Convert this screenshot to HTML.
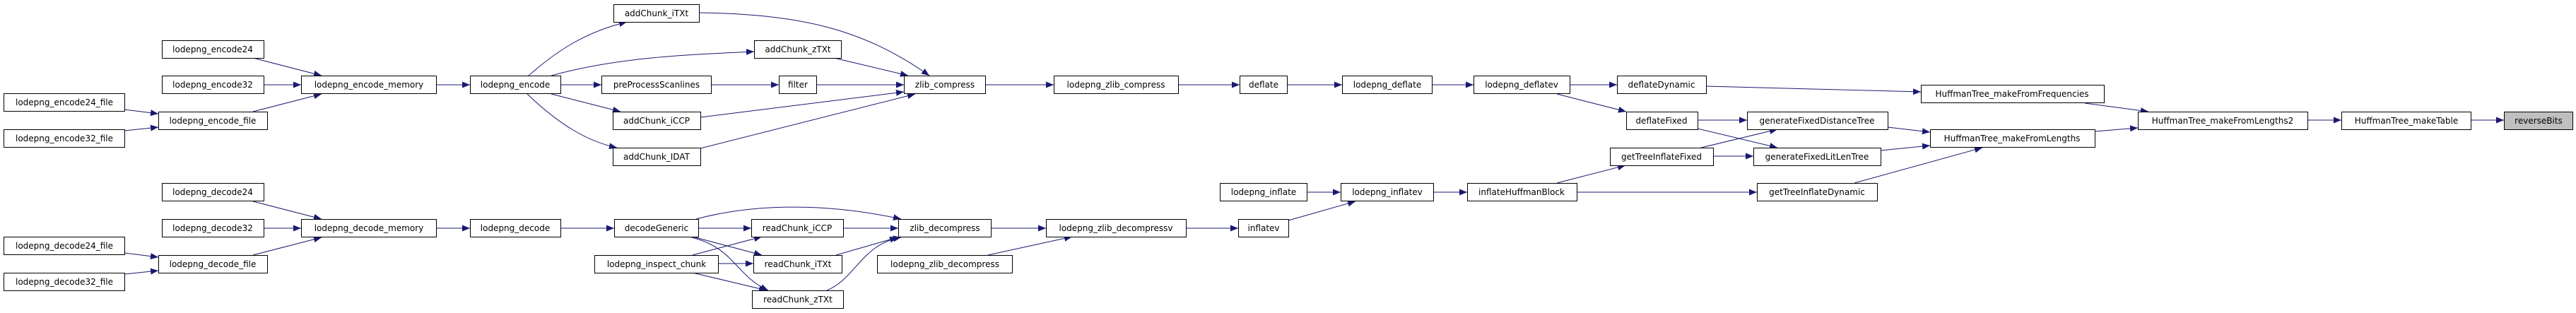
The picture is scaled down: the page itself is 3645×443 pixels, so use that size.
<!DOCTYPE html>
<html><head><meta charset="utf-8"><style>
html,body{margin:0;padding:0;background:#fff;}
svg{display:block;}
text{font-family:"DejaVu Sans","Liberation Sans",sans-serif;font-size:12px;fill:#000;}
.b{fill:#fff;stroke:#000;stroke-width:1;}
.e{fill:none;stroke:#191970;stroke-width:1;}
</style></head><body>
<svg width="3645" height="443" viewBox="0 0 3645 443" xmlns="http://www.w3.org/2000/svg">
<defs>
<marker id="a" markerUnits="userSpaceOnUse" markerWidth="12" markerHeight="10" refX="11" refY="5" orient="auto">
<polygon points="0,0.5 11,5 0,9.5" fill="#191970"/>
</marker>
</defs>
<g marker-end="url(#a)" class="e">
<!-- encode cluster -->
<path class="e" d="M358,82 L455,107"/>
<path class="e" d="M373,120 L426,120"/>
<path class="e" d="M358,158 L455,133"/>
<path class="e" d="M176,155 L224,161"/>
<path class="e" d="M176,185 L224,180"/>
<path class="e" d="M617,120 L665,120"/>
<path class="e" d="M748,107 C790,70 830,45 887,31"/>
<path class="e" d="M780,107 C870,82 960,78 1067,73"/>
<path class="e" d="M793,120 L851,120"/>
<path class="e" d="M780,133 L878,158"/>
<path class="e" d="M746,133 C790,175 830,200 873,209"/>
<path class="e" d="M1006,120 L1102,120"/>
<path class="e" d="M989,18 C1130,20 1220,40 1315,107"/>
<path class="e" d="M1180,82 L1285,107"/>
<path class="e" d="M1155,120 L1279,120"/>
<path class="e" d="M991,166 L1279,130"/>
<path class="e" d="M991,210 L1295,133"/>
<path class="e" d="M1394,120 L1491,120"/>
<path class="e" d="M1667,120 L1754,120"/>
<path class="e" d="M1821,120 L1899,120"/>
<path class="e" d="M2026,120 L2085,120"/>
<path class="e" d="M2221,120 L2288,120"/>
<path class="e" d="M2203,133 L2301,158"/>
<path class="e" d="M2414,122 L2718,130"/>
<path class="e" d="M2402,170 L2472,170"/>
<path class="e" d="M2402,182 L2515,209"/>
<path class="e" d="M2407,209 L2515,183"/>
<path class="e" d="M2424,221 L2481,221"/>
<path class="e" d="M2671,180 L2731,187"/>
<path class="e" d="M2661,213 L2731,206"/>
<path class="e" d="M2624,259 L2805,209"/>
<path class="e" d="M2950,146 L3040,158"/>
<path class="e" d="M2964,186 L3025,181"/>
<path class="e" d="M3265,170 L3313,170"/>
<path class="e" d="M3496,170 L3543,170"/>
<!-- decode cluster -->
<path class="e" d="M358,285 L455,310"/>
<path class="e" d="M373,323 L426,323"/>
<path class="e" d="M358,361 L455,336"/>
<path class="e" d="M176,358 L224,364"/>
<path class="e" d="M176,388 L224,383"/>
<path class="e" d="M617,323 L665,323"/>
<path class="e" d="M793,323 L869,323"/>
<path class="e" d="M985,310 C1060,290 1160,285 1275,310"/>
<path class="e" d="M988,323 L1063,323"/>
<path class="e" d="M980,335 L1078,361"/>
<path class="e" d="M975,335 C1040,350 1040,390 1087,411"/>
<path class="e" d="M980,361 L1078,335"/>
<path class="e" d="M1016,373 L1066,373"/>
<path class="e" d="M980,386 L1085,411"/>
<path class="e" d="M1193,323 L1271,323"/>
<path class="e" d="M1183,361 L1270,336"/>
<path class="e" d="M1170,411 C1210,395 1220,345 1275,336"/>
<path class="e" d="M1402,323 L1480,323"/>
<path class="e" d="M1398,361 L1517,335"/>
<path class="e" d="M1678,323 L1752,323"/>
<path class="e" d="M1823,312 L1918,285"/>
<path class="e" d="M1849,272 L1897,272"/>
<path class="e" d="M2028,272 L2076,272"/>
<path class="e" d="M2203,259 L2300,234"/>
<path class="e" d="M2231,272 L2486,272"/>
</g>
<g text-anchor="middle">
<rect class="b" x="229.5" y="57.5" width="144" height="25"/><text x="301" y="74">lodepng_encode24</text>
<rect class="b" x="229.5" y="107.5" width="144" height="25"/><text x="301" y="124">lodepng_encode32</text>
<rect class="b" x="426.5" y="107.5" width="191" height="25"/><text x="522" y="124">lodepng_encode_memory</text>
<rect class="b" x="5.5" y="132.5" width="171" height="25"/><text x="91" y="149">lodepng_encode24_file</text>
<rect class="b" x="224.5" y="158.5" width="154" height="25"/><text x="301" y="175">lodepng_encode_file</text>
<rect class="b" x="5.5" y="183.5" width="171" height="25"/><text x="91" y="200">lodepng_encode32_file</text>

<rect class="b" x="229.5" y="259.5" width="144" height="25"/><text x="301" y="276">lodepng_decode24</text>
<rect class="b" x="229.5" y="310.5" width="144" height="25"/><text x="301" y="327">lodepng_decode32</text>
<rect class="b" x="426.5" y="310.5" width="191" height="25"/><text x="522" y="327">lodepng_decode_memory</text>
<rect class="b" x="5.5" y="335.5" width="171" height="25"/><text x="91" y="352">lodepng_decode24_file</text>
<rect class="b" x="224.5" y="361.5" width="154" height="25"/><text x="301" y="378">lodepng_decode_file</text>
<rect class="b" x="5.5" y="386.5" width="171" height="25"/><text x="91" y="403">lodepng_decode32_file</text>

<rect class="b" x="665.5" y="107.5" width="128" height="25"/><text x="729" y="124">lodepng_encode</text>
<rect class="b" x="868.5" y="6.5" width="121" height="25"/><text x="929" y="23">addChunk_iTXt</text>
<rect class="b" x="1067.5" y="57.5" width="123" height="25"/><text x="1129" y="74">addChunk_zTXt</text>
<rect class="b" x="851.5" y="107.5" width="155" height="25"/><text x="929" y="124">preProcessScanlines</text>
<rect class="b" x="1102.5" y="107.5" width="53" height="25"/><text x="1129" y="124">filter</text>
<rect class="b" x="867.5" y="158.5" width="124" height="25"/><text x="929" y="175">addChunk_iCCP</text>
<rect class="b" x="867.5" y="209.5" width="124" height="25"/><text x="929" y="226">addChunk_IDAT</text>

<rect class="b" x="665.5" y="310.5" width="128" height="25"/><text x="729" y="327">lodepng_decode</text>
<rect class="b" x="869.5" y="310.5" width="119" height="25"/><text x="929" y="327">decodeGeneric</text>
<rect class="b" x="1063.5" y="310.5" width="130" height="25"/><text x="1128" y="327">readChunk_iCCP</text>
<rect class="b" x="841.5" y="361.5" width="175" height="25"/><text x="929" y="378">lodepng_inspect_chunk</text>
<rect class="b" x="1066.5" y="361.5" width="125" height="25"/><text x="1129" y="378">readChunk_iTXt</text>
<rect class="b" x="1064.5" y="411.5" width="129" height="25"/><text x="1129" y="428">readChunk_zTXt</text>

<rect class="b" x="1279.5" y="107.5" width="115" height="25"/><text x="1337" y="124">zlib_compress</text>
<rect class="b" x="1491.5" y="107.5" width="176" height="25"/><text x="1579" y="124">lodepng_zlib_compress</text>
<rect class="b" x="1754.5" y="107.5" width="67" height="25"/><text x="1788" y="124">deflate</text>
<rect class="b" x="1271.5" y="310.5" width="131" height="25"/><text x="1337" y="327">zlib_decompress</text>
<rect class="b" x="1480.5" y="310.5" width="198" height="25"/><text x="1579" y="327">lodepng_zlib_decompressv</text>
<rect class="b" x="1752.5" y="310.5" width="71" height="25"/><text x="1788" y="327">inflatev</text>
<rect class="b" x="1241.5" y="361.5" width="191" height="25"/><text x="1337" y="378">lodepng_zlib_decompress</text>
<rect class="b" x="1726.5" y="259.5" width="123" height="25"/><text x="1788" y="276">lodepng_inflate</text>

<rect class="b" x="1899.5" y="107.5" width="127" height="25"/><text x="1963" y="124">lodepng_deflate</text>
<rect class="b" x="2085.5" y="107.5" width="136" height="25"/><text x="2153" y="124">lodepng_deflatev</text>
<rect class="b" x="2288.5" y="107.5" width="126" height="25"/><text x="2351" y="124">deflateDynamic</text>
<rect class="b" x="2301.5" y="158.5" width="101" height="25"/><text x="2351" y="175">deflateFixed</text>
<rect class="b" x="2278.5" y="209.5" width="146" height="25"/><text x="2351" y="226">getTreeInflateFixed</text>
<rect class="b" x="1897.5" y="259.5" width="131" height="25"/><text x="1963" y="276">lodepng_inflatev</text>
<rect class="b" x="2076.5" y="259.5" width="155" height="25"/><text x="2153" y="276">inflateHuffmanBlock</text>

<rect class="b" x="2472.5" y="158.5" width="199" height="25"/><text x="2571" y="175">generateFixedDistanceTree</text>
<rect class="b" x="2481.5" y="209.5" width="180" height="25"/><text x="2571" y="226">generateFixedLitLenTree</text>
<rect class="b" x="2486.5" y="259.5" width="170" height="25"/><text x="2571" y="276">getTreeInflateDynamic</text>
<rect class="b" x="2718.5" y="120.5" width="259" height="25"/><text x="2847" y="137">HuffmanTree_makeFromFrequencies</text>
<rect class="b" x="2731.5" y="183.5" width="233" height="25"/><text x="2847" y="200">HuffmanTree_makeFromLengths</text>
<rect class="b" x="3025.5" y="158.5" width="240" height="25"/><text x="3145" y="175">HuffmanTree_makeFromLengths2</text>
<rect class="b" x="3313.5" y="158.5" width="183" height="25"/><text x="3405" y="175">HuffmanTree_makeTable</text>
<rect x="3543.5" y="158.5" width="97" height="25" fill="#bfbfbf" stroke="#000"/><text x="3592" y="175">reverseBits</text>
</g>
</svg>
</body></html>
